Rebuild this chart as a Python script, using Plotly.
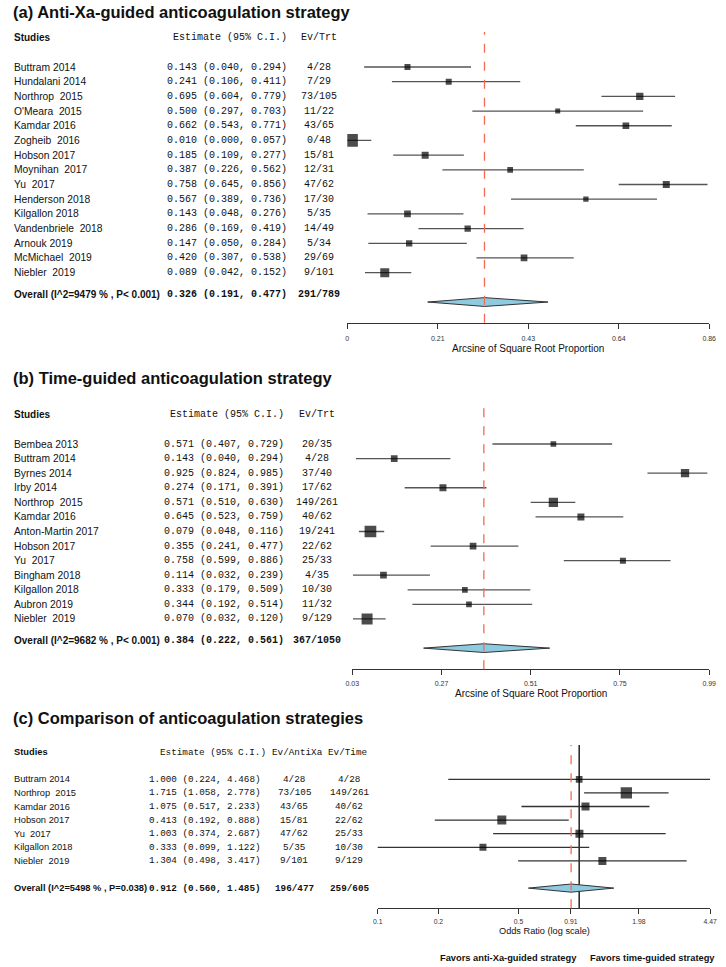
import math
import plotly.graph_objects as go

# ---------------- data ----------------
studies_a = ["Buttram 2014", "Hundalani 2014", "Northrop\u00a0 2015", "O'Meara\u00a0 2015", "Kamdar 2016",
             "Zogheib\u00a0 2016", "Hobson 2017", "Moynihan\u00a0 2017", "Yu\u00a0 2017", "Henderson 2018",
             "Kilgallon 2018", "Vandenbriele\u00a0 2018", "Arnouk 2019", "McMichael\u00a0 2019", "Niebler\u00a0 2019"]
est_a = [0.143, 0.241, 0.695, 0.500, 0.662, 0.010, 0.185, 0.387, 0.758, 0.567, 0.143, 0.286, 0.147, 0.420, 0.089]
lo_a = [0.040, 0.106, 0.604, 0.297, 0.543, 0.000, 0.109, 0.226, 0.645, 0.389, 0.048, 0.169, 0.050, 0.307, 0.042]
hi_a = [0.294, 0.411, 0.779, 0.703, 0.771, 0.057, 0.277, 0.562, 0.856, 0.736, 0.276, 0.419, 0.284, 0.538, 0.152]
ev_a = ["4/28", "7/29", "73/105", "11/22", "43/65", "0/48", "15/81", "12/31", "47/62", "17/30", "5/35",
        "14/49", "5/34", "29/69", "9/101"]
overall_a = [0.326, 0.191, 0.477]
overall_ev_a = "291/789"
overall_label_a = "Overall (I^2=9479 % , P< 0.001)"
ticks_a = [0, 0.215, 0.43, 0.645, 0.86]
ticklabels_a = ["0", "0.21", "0.43", "0.64", "0.86"]

studies_b = ["Bembea 2013", "Buttram 2014", "Byrnes 2014", "Irby 2014", "Northrop\u00a0 2015", "Kamdar 2016",
             "Anton-Martin 2017", "Hobson 2017", "Yu\u00a0 2017", "Bingham 2018", "Kilgallon 2018",
             "Aubron 2019", "Niebler\u00a0 2019"]
est_b = [0.571, 0.143, 0.925, 0.274, 0.571, 0.645, 0.079, 0.355, 0.758, 0.114, 0.333, 0.344, 0.070]
lo_b = [0.407, 0.040, 0.824, 0.171, 0.510, 0.523, 0.048, 0.241, 0.599, 0.032, 0.179, 0.192, 0.032]
hi_b = [0.729, 0.294, 0.985, 0.391, 0.630, 0.759, 0.116, 0.477, 0.886, 0.239, 0.509, 0.514, 0.120]
ev_b = ["20/35", "4/28", "37/40", "17/62", "149/261", "40/62", "19/241", "22/62", "25/33", "4/35",
        "10/30", "11/32", "9/129"]
overall_b = [0.384, 0.222, 0.561]
overall_ev_b = "367/1050"
overall_label_b = "Overall (I^2=9682 % , P< 0.001)"
ticks_b = [0.03, 0.27, 0.51, 0.75, 0.99]
ticklabels_b = ["0.03", "0.27", "0.51", "0.75", "0.99"]

studies_c = ["Buttram 2014", "Northrop\u00a0 2015", "Kamdar 2016", "Hobson 2017", "Yu\u00a0 2017",
             "Kilgallon 2018", "Niebler\u00a0 2019"]
est_c = [1.000, 1.715, 1.075, 0.413, 1.003, 0.333, 1.304]
lo_c = [0.224, 1.058, 0.517, 0.192, 0.374, 0.099, 0.498]
hi_c = [4.468, 2.778, 2.233, 0.888, 2.687, 1.122, 3.417]
ev_antixa_c = ["4/28", "73/105", "43/65", "15/81", "47/62", "5/35", "9/101"]
ev_time_c = ["4/28", "149/261", "40/62", "22/62", "25/33", "10/30", "9/129"]
overall_c = [0.912, 0.560, 1.485]
overall_ev_antixa_c = "196/477"
overall_ev_time_c = "259/605"
overall_label_c = "Overall (I^2=5498 % , P=0.038)"
ticks_c = [0.1, 0.2, 0.5, 0.91, 1.98, 4.47]
ticklabels_c = ["0.1", "0.2", "0.5", "0.91", "1.98", "4.47"]

# ---------------- styles ----------------
sq_a = [6, 6, 7.3, 5, 6.7, 12.7, 7, 5.7, 7, 5.3, 6.7, 6.3, 6.3, 6.7, 9]
sq_b = [5.7, 6.7, 8.3, 7, 9.3, 7, 11.7, 6.7, 6, 6.7, 5.7, 5.7, 11]
sq_c = [6.7, 11.3, 8, 9, 8, 7, 8]

W, H = 726, 967
SANS = "Liberation Sans, Arial, sans-serif"
MONO = "Liberation Mono, Courier New, monospace"
TXT = "#111111"
RED = "#f26b55"
DIAMOND = "#8fcbe0"


def px(x):
    return x / W


def py(y):
    return 1 - y / H


fig = go.Figure()
annotations = []
shapes = []


def add_text(text, x, y, yref, size, family=SANS, anchor="left", bold=False):
    if bold:
        text = "<b>" + text + "</b>"
    annotations.append(dict(text=text, x=px(x), xref="paper", y=y, yref=yref, xanchor=anchor,
                            yanchor="middle", showarrow=False, borderpad=0,
                            font=dict(family=family, size=size, color=TXT)))


def panel(axn, studies, est, lo, hi, sizes, overall, dia_row, dia_h, ci_col):
    xa = "x" if axn == 1 else f"x{axn}"
    ya = "y" if axn == 1 else f"y{axn}"
    rows = list(range(1, len(studies) + 1))
    xs, ys = [], []
    for r, l, h in zip(rows, lo, hi):
        xs += [l, h, None]
        ys += [r, r, None]
    fig.add_trace(go.Scatter(x=xs, y=ys, mode="lines", line=dict(color=ci_col, width=1.3),
                             xaxis=xa, yaxis=ya, hoverinfo="skip", showlegend=False))
    fig.add_trace(go.Scatter(x=est, y=rows, mode="markers",
                             marker=dict(symbol="square", size=sizes, color="black", line=dict(width=0)),
                             xaxis=xa, yaxis=ya, showlegend=False))
    e, l, h = overall
    fig.add_trace(go.Scatter(x=[l, e, h, e, l], y=[dia_row, dia_row - dia_h, dia_row, dia_row + dia_h, dia_row],
                             mode="lines", fill="toself", fillcolor=DIAMOND,
                             line=dict(color="#333333", width=1), xaxis=xa, yaxis=ya,
                             hoverinfo="skip", showlegend=False))
    shapes.append(dict(type="line", xref=xa, yref=f"{ya} domain", x0=e, x1=e, y0=0, y1=1,
                       line=dict(color=RED, width=1.3, dash="dash"), layer="above"))
    return rows


# ---------- panel (a) ----------
rows_a = panel(1, studies_a, est_a, lo_a, hi_a, sq_a, overall_a, 17, 0.3, "#555555")
add_text("(a) Anti-Xa-guided anticoagulation strategy", 5, py(12), "paper", 16.5, bold=True)
add_text("Studies", 6, -1, "y", 10, bold=True)
add_text("Estimate (95% C.I.)", 287, -1, "y", 10, MONO, "right")
add_text("Ev/Trt", 318, -1, "y", 10, MONO, "center")
for r, s, e, l, h, ev in zip(rows_a, studies_a, est_a, lo_a, hi_a, ev_a):
    add_text(s, 6, r, "y", 10.3)
    add_text(f"{e:.3f} ({l:.3f}, {h:.3f})", 287, r, "y", 10, MONO, "right")
    add_text(ev, 318, r, "y", 10, MONO, "center")
add_text(overall_label_a, 6, 16.5, "y", 10, bold=True)
add_text("{:.3f} ({:.3f}, {:.3f})".format(*overall_a), 287, 16.5, "y", 10, MONO, "right", bold=True)
add_text(overall_ev_a, 318, 16.5, "y", 10, MONO, "center", bold=True)
add_text("Arcsine of Square Root Proportion", 531, py(348), "paper", 10, anchor="center")

# ---------- panel (b) ----------
rows_b = panel(2, studies_b, est_b, lo_b, hi_b, sq_b, overall_b, 15, 0.3, "#555555")
add_text("(b) Time-guided anticoagulation strategy", 5, py(378), "paper", 16.5, bold=True)
add_text("Studies", 6, -1, "y2", 10, bold=True)
add_text("Estimate (95% C.I.)", 283, -1, "y2", 10, MONO, "right")
add_text("Ev/Trt", 316, -1, "y2", 10, MONO, "center")
for r, s, e, l, h, ev in zip(rows_b, studies_b, est_b, lo_b, hi_b, ev_b):
    add_text(s, 6, r, "y2", 10.3)
    add_text(f"{e:.3f} ({l:.3f}, {h:.3f})", 283, r, "y2", 10, MONO, "right")
    add_text(ev, 316, r, "y2", 10, MONO, "center")
add_text(overall_label_b, 6, 14.45, "y2", 10, bold=True)
add_text("{:.3f} ({:.3f}, {:.3f})".format(*overall_b), 283, 14.45, "y2", 10, MONO, "right", bold=True)
add_text(overall_ev_b, 316, 14.45, "y2", 10, MONO, "center", bold=True)
add_text("Arcsine of Square Root Proportion", 534, py(693), "paper", 10, anchor="center")

# ---------- panel (c) ----------
rows_c = panel(3, studies_c, est_c, lo_c, hi_c, sq_c, overall_c, 9, 0.3, "#333333")
shapes.append(dict(type="line", xref="x3", yref="y3 domain", x0=1, x1=1, y0=0, y1=1,
                   line=dict(color="black", width=1.3), layer="below"))
add_text("(c) Comparison of anticoagulation strategies", 5, py(718), "paper", 16.5, bold=True)
add_text("Studies", 6, -1, "y3", 9.3, bold=True)
add_text("Estimate (95% C.I.)", 265, -1, "y3", 9.3, MONO, "right")
add_text("Ev/AntiXa", 296, -1, "y3", 9.3, MONO, "center")
add_text("Ev/Time", 347, -1, "y3", 9.3, MONO, "center")
for r, s, e, l, h, ea, et in zip(rows_c, studies_c, est_c, lo_c, hi_c, ev_antixa_c, ev_time_c):
    add_text(s, 6, r, "y3", 9.3)
    add_text(f"{e:.3f} ({l:.3f}, {h:.3f})", 260, r, "y3", 9.3, MONO, "right")
    add_text(ea, 293, r, "y3", 9.3, MONO, "center")
    add_text(et, 349, r, "y3", 9.3, MONO, "center")
add_text(overall_label_c, 6, 9, "y3", 9.3, bold=True)
add_text("{:.3f} ({:.3f}, {:.3f})".format(*overall_c), 260, 9, "y3", 9.3, MONO, "right", bold=True)
add_text(overall_ev_antixa_c, 293, 9, "y3", 9.3, MONO, "center", bold=True)
add_text(overall_ev_time_c, 349, 9, "y3", 9.3, MONO, "center", bold=True)
add_text("Odds Ratio (log scale)", 548, py(931), "paper", 9.2, anchor="center")
add_text("Favors anti-Xa-guided strategy", 582, py(958), "paper", 9.3, anchor="right", bold=True)
add_text("Favors time-guided strategy", 593, py(958), "paper", 9.3, anchor="left", bold=True)


def xaxis_style(dom, rng, tv, tt, typ="linear", fs=7, standoff=4):
    return dict(domain=[px(dom[0]), px(dom[1])], range=rng, type=typ, tickmode="array",
                tickvals=tv, ticktext=tt, showline=True, linecolor="#333333", linewidth=1.2,
                ticks="outside", ticklen=5, tickwidth=1.2, tickcolor="#333333",
                showgrid=False, zeroline=False, ticklabelstandoff=standoff,
                tickfont=dict(family=SANS, size=fs, color="#333333"), fixedrange=True)


def yaxis_style(top, bottom, first_px, step, xa):
    r_top = 1 + (top - first_px) / step
    r_bot = 1 + (bottom - first_px) / step
    return dict(domain=[py(bottom), py(top)], range=[r_bot, r_top], visible=False,
                showgrid=False, zeroline=False, anchor=xa, fixedrange=True)


fig.update_layout(
    width=W, height=H, margin=dict(l=0, r=0, t=0, b=0),
    paper_bgcolor="white", plot_bgcolor="white",
    xaxis=dict(anchor="y", **xaxis_style((347, 716), [0, 0.86], ticks_a, ticklabels_a)),
    yaxis=yaxis_style(32, 322.7, 67, 14.69, "x"),
    xaxis2=dict(anchor="y2", **xaxis_style((352, 716), [0.03, 0.99], ticks_b, ticklabels_b, standoff=2)),
    yaxis2=yaxis_style(403, 669.3, 444, 14.58, "x2"),
    xaxis3=dict(anchor="y3", **xaxis_style((378, 717), [math.log10(0.1), math.log10(4.47)],
                                           ticks_c, ticklabels_c, "log", 6.8, standoff=1)),
    yaxis3=yaxis_style(745, 908.3, 779.3, 13.6, "x3"),
    annotations=annotations, shapes=shapes, showlegend=False,
)

fig.write_html("out.html", config={"displayModeBar": False},
               post_script="document.body.style.margin='0';document.body.style.padding='0';")
